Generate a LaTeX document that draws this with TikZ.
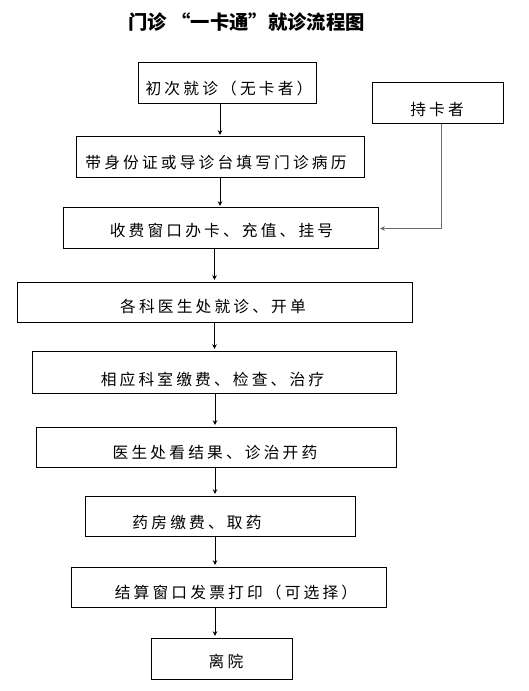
\documentclass[tikz,border=0pt]{standalone}
\usepackage{fontspec}
\usetikzlibrary{fit,arrows.meta}
\newfontfamily\cjk[LetterSpace=20]{Noto Sans CJK SC}
\newfontfamily\cjktitle{Noto Sans CJK SC}
\begin{document}
\begin{tikzpicture}[x=0.75pt,y=-0.75pt,
  box/.style={draw,line width=0.75pt,inner sep=0pt,rectangle},
  txt/.style={inner sep=0pt,font=\cjk\fontsize{11.8pt}{13pt}\selectfont},
  arr/.style={line width=0.75pt,-{Stealth[length=3.5pt,width=3.5pt]},shorten >=1.2pt},
  garr/.style={arr,draw=gray!85!black,line width=0.9pt}]
\useasboundingbox (0,0) rectangle (528,691);
\node[font=\cjktitle\bfseries\fontsize{14.5pt}{16pt}\selectfont] (title) at (246.7,22) {门诊 “一卡通”就诊流程图};
% boxes
\node[box,fit={(138,63) (316,104)}] (b1) {};
\node[box,fit={(372,83) (503,124)}] (bk) {};
\node[box,fit={(76,137) (364,178)}] (b2) {};
\node[box,fit={(63,208) (378,249)}] (b3) {};
\node[box,fit={(17,282) (412,322)}] (b4) {};
\node[box,fit={(32,351) (396,393)}] (b5) {};
\node[box,fit={(36,427) (396,467)}] (b6) {};
\node[box,fit={(85,496) (355,536)}] (b7) {};
\node[box,fit={(71,567) (386,607)}] (b8) {};
\node[box,fit={(151,638) (292,679)}] (b9) {};
% texts
\node[txt] (t1) at (229,89) {初次就诊（无卡者）};
\node[txt] (tk) at (437,110) {持卡者};
\node[txt] (t2) at (216,163) {带身份证或导诊台填写门诊病历};
\node[txt] (t3) at (221.5,231) {收费窗口办卡、充值、挂号};
\node[txt] (t4) at (213,306) {各科医生处就诊、开单};
\node[txt] (t5) at (212.5,379) {相应科室缴费、检查、治疗};
\node[txt] (t6) at (215,453) {医生处看结果、诊治开药};
\node[txt] (t7) at (197,522.5) {药房缴费、取药};
\node[txt] (t8) at (236,592.5) {结算窗口发票打印（可选择）};
\node[txt] (t9) at (226,661) {离院};
% connector columns
\coordinate (cA) at (220,0);
\coordinate (cB) at (214.5,0);
\coordinate (cC) at (215,0);
\coordinate (cK) at (441.7,0);
\draw[arr] (b1.south -| cA) -- (b2.north -| cA);
\draw[arr] (b2.south -| cA) -- (b3.north -| cA);
\draw[arr] (b3.south -| cB) -- (b4.north -| cB);
\draw[arr] (b4.south -| cB) -- (b5.north -| cB);
\draw[arr] (b5.south -| cC) -- (b6.north -| cC);
\draw[arr] (b6.south -| cC) -- (b7.north -| cC);
\draw[arr] (b7.south -| cC) -- (b8.north -| cC);
\draw[arr] (b8.south -| cC) -- (b9.north -| cC);
\draw[garr] (bk.south -| cK) |- (b3.east);
\end{tikzpicture}
\end{document}
